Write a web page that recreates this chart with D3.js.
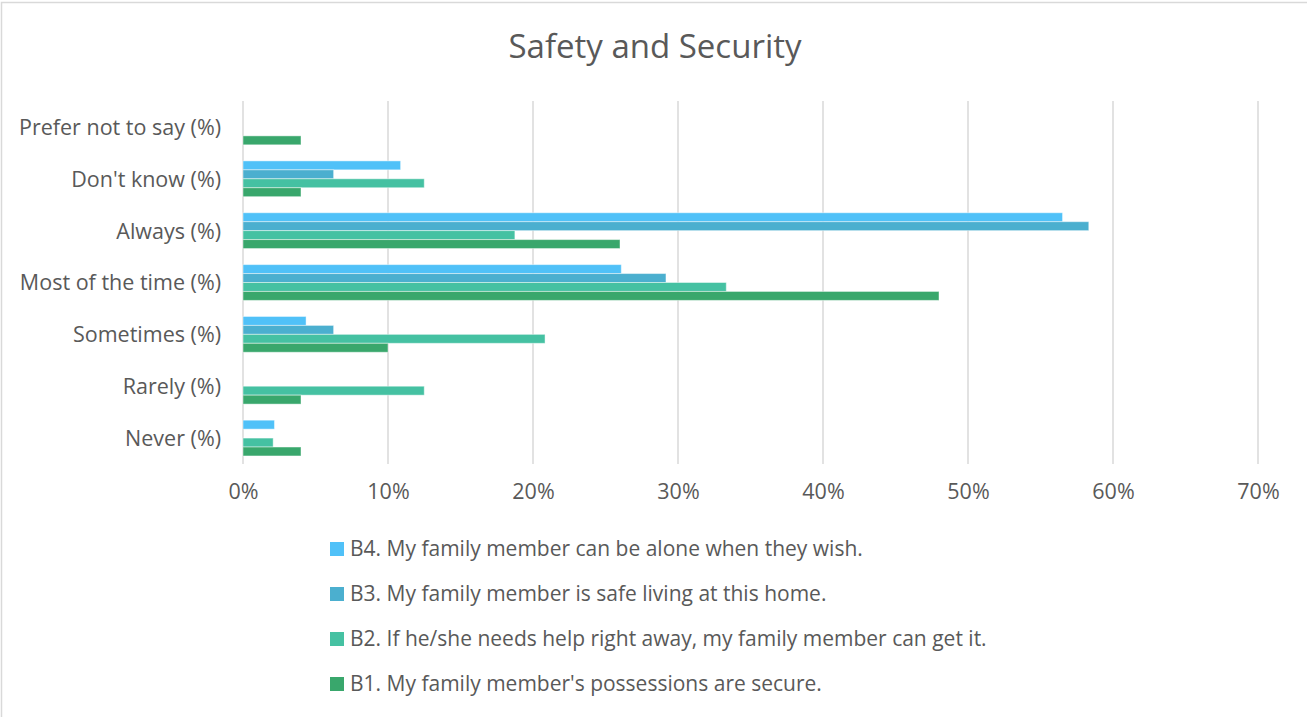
<!DOCTYPE html>
<html>
<head>
<meta charset="utf-8">
<script src="https://cdn.jsdelivr.net/npm/d3@7/dist/d3.min.js"></script>
<style>
  body { margin: 0; background: #fff; }
  text { font-family: "Open Sans", "Noto Sans", sans-serif; fill: #595959; }
</style>
</head>
<body>
<div id="vis"></div>
<script>
// categories top to bottom
var categories = ["Prefer not to say (%)", "Don't know (%)", "Always (%)", "Most of the time (%)",
  "Sometimes (%)", "Rarely (%)", "Never (%)"];

var seriesNames = [
  "B4. My family member can be alone when they wish.",
  "B3. My family member is safe living at this home.",
  "B2. If he/she needs help right away, my family member can get it.",
  "B1. My family member's possessions are secure."
];
var seriesColors = ["#50C1F8", "#4BAFCF", "#45C1A2", "#39A76C"];

// percent values, same order as categories
var b4 = [0, 10.87, 56.52, 26.09, 4.35, 0, 2.17];
var b3 = [0, 6.25, 58.33, 29.17, 6.25, 0, 0];
var b2 = [0, 12.5, 18.75, 33.33, 20.83, 12.5, 2.08];
var b1 = [4, 4, 26, 48, 10, 4, 4];
var seriesValues = [b4, b3, b2, b1];

var xTicks = [0, 10, 20, 30, 40, 50, 60, 70];

var width = 1307, height = 717;
var plot = {left: 243, right: 1258, top: 101, bottom: 464};
var labelSize = "21.5px";

var svg = d3.select("#vis").append("svg")
  .attr("width", width)
  .attr("height", height);

// chart border
svg.append("rect")
  .attr("x", 1.5).attr("y", 2.5)
  .attr("width", width + 10).attr("height", height + 10)
  .attr("fill", "none")
  .attr("stroke", "#D9D9D9")
  .attr("stroke-width", 1.5);

svg.append("text")
  .attr("x", 655).attr("y", 58)
  .attr("text-anchor", "middle")
  .style("font-size", "33px")
  .text("Safety and Security");

var xScale = d3.scaleLinear()
  .domain([0, 70])
  .range([plot.left, plot.right]);

var yScale = d3.scaleBand()
  .domain(categories)
  .range([plot.top, plot.bottom])
  .paddingInner(0.31)
  .paddingOuter(0.155);

var inner = d3.scaleBand()
  .domain(d3.range(seriesNames.length))
  .range([0, yScale.bandwidth()]);

// gridlines
svg.append("g")
  .selectAll("line")
  .data(xTicks)
  .enter().append("line")
  .attr("x1", function(d){ return xScale(d); })
  .attr("x2", function(d){ return xScale(d); })
  .attr("y1", plot.top)
  .attr("y2", plot.bottom)
  .style("stroke", "#D9D9D9")
  .style("stroke-width", 1.5);

// x axis labels
var xAxis = svg.append("g")
  .attr("transform", "translate(0," + (plot.bottom + 10) + ")")
  .call(d3.axisBottom(xScale).tickValues(xTicks).tickSize(0).tickPadding(10)
    .tickFormat(function(d){ return d + "%"; }));
xAxis.select(".domain").remove();
xAxis.selectAll("text").style("font-size", labelSize).attr("fill", "#595959");

// y axis labels
var yAxis = svg.append("g")
  .attr("transform", "translate(" + (plot.left - 22) + ",1)")
  .call(d3.axisLeft(yScale).tickSize(0).tickPadding(0));
yAxis.select(".domain").remove();
yAxis.selectAll("text").style("font-size", labelSize).attr("fill", "#595959");

// bars
seriesValues.forEach(function(vals, si){
  var rows = vals.map(function(v, i){ return {cat: categories[i], value: v}; })
    .filter(function(d){ return d.value > 0; });
  svg.append("g")
    .selectAll("rect")
    .data(rows)
    .enter().append("rect")
    .attr("x", xScale(0))
    .attr("y", function(d){ return yScale(d.cat) + inner(si); })
    .attr("width", function(d){ return xScale(d.value) - xScale(0); })
    .attr("height", inner.bandwidth())
    .attr("fill", seriesColors[si])
    .attr("stroke", "rgba(255,255,255,0.45)")
    .attr("stroke-width", 1);
});

// legend
var legend = svg.append("g")
  .selectAll("g")
  .data(seriesNames)
  .enter().append("g")
  .attr("transform", function(d, i){ return "translate(330," + (549 + i * 45) + ")"; });

legend.append("rect")
  .attr("x", 0).attr("y", -7)
  .attr("width", 14).attr("height", 14)
  .attr("fill", function(d, i){ return seriesColors[i]; });

legend.append("text")
  .attr("x", 20).attr("y", 0)
  .attr("dy", "0.35em")
  .style("font-size", "21px")
  .text(function(d){ return d; });
</script>
</body>
</html>
